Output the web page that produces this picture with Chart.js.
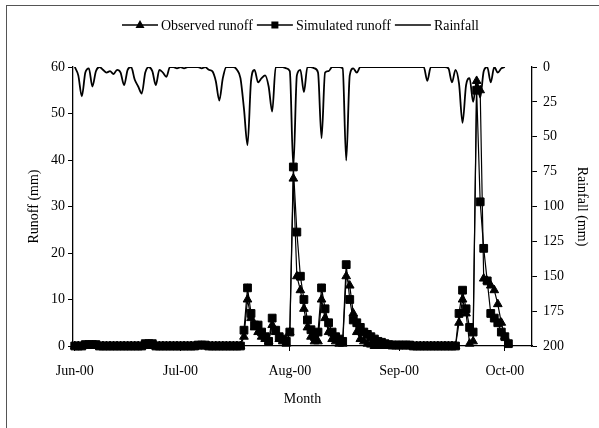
<!DOCTYPE html>
<html>
<head>
<meta charset="utf-8">
<title>Runoff and rainfall</title>
<script src="https://cdn.jsdelivr.net/npm/chart.js@4.4.1/dist/chart.umd.min.js"></script>
<style>
  body { margin: 0; background: #fff; }
  #wrap { position: relative; width: 599px; height: 428px; }
  #frame {
    position: absolute; left: 6px; top: 5px; right: 0; bottom: 0;
    border-left: 1px solid #555; border-top: 1px solid #555;
    pointer-events: none;
  }
</style>
</head>
<body>
<div id="wrap">
  <canvas id="runoffChart" width="599" height="428"></canvas>
  <div id="frame"></div>
</div>
<script>
// days counted from 1 Jun 2000 (day 0)
var monthTicks = [0, 30, 61, 92, 122];
var monthLabels = ["Jun-00", "Jul-00", "Aug-00", "Sep-00", "Oct-00"];

// daily rainfall (mm)
var rainfall = [
  0, 6, 21, 4, 1, 14, 3, 0, 2, 4,
  3, 5, 2, 4, 13, 2, 0, 9, 14, 19,
  4, 0, 3, 13, 2, 4, 7, 0, 0, 1,
  0, 1, 0, 0, 0, 0, 1, 0, 2, 3,
  10, 24, 8, 0, 0, 0, 2, 8, 30, 56,
  10, 2, 11, 8, 6, 14, 32, 0, 0, 0,
  1, 3, 72, 6, 2, 18, 0, 0, 1, 4,
  51, 4, 3, 0, 0, 0, 1, 67, 6, 1,
  4, 0, 0, 0, 0, 0, 0, 0, 0, 0,
  0, 0, 0, 0, 0, 0, 0, 0, 0, 0,
  10, 0, 0, 0, 0, 0, 1, 11, 2, 12,
  40, 13, 8, 25, 10, 22, 3, 0, 11, 0,
  4, 1, 0, null,
];

// observed daily runoff (mm)
var observedRunoff = [
  0, 0, 0, 0, 0, 0, 0, 0, 0, 0,
  0, 0, 0, 0, 0, 0, 0, 0, 0, 0,
  0, 0, 0, 0, 0, 0, 0, 0, 0, 0,
  0, 0, 0, 0, 0, 0, 0, 0, 0, 0,
  0, 0, 0, 0, 0, 0, 0, 0, 2, 10,
  6, 4, 3, 2, 1.5, 1, 4.5, 3, 1.5, 1,
  0.5, 3, 36, 15, 12, 8, 4, 2, 1, 1,
  10, 6, 3, 1.5, 1, 0.5, 0.5, 15, 13, 7,
  3, 1.5, 1, 0.5, 0.3, 0, 0, 0, 0, 0,
  0, 0, 0, 0, 0, 0, 0, 0, 0, 0,
  0, 0, 0, 0, 0, 0, 0, 0, 0, 5,
  10, 7, 0.5, 1, 57, 55, 14.5, 14, 13, 12,
  9, 5, 2, 0.5,
];

// simulated daily runoff (mm)
var simulatedRunoff = [
  0, 0, 0, 0.3, 0.3, 0.3, 0.3, 0, 0, 0,
  0, 0, 0, 0, 0, 0, 0, 0, 0, 0,
  0.5, 0.5, 0.5, 0, 0, 0, 0, 0, 0, 0,
  0, 0, 0, 0, 0, 0.2, 0.2, 0.2, 0, 0,
  0, 0, 0, 0, 0, 0, 0, 0, 3.4, 12.5,
  7, 4.5, 4.5, 3, 2, 1, 6, 3.4, 2, 1.5,
  1, 3, 38.5, 24.5, 15, 10, 5.6, 3.5, 2, 3,
  12.5, 8, 5, 3, 2, 1.5, 1, 17.5, 10, 5.6,
  5, 4, 3, 2.5, 2, 1.5, 1, 0.8, 0.5, 0.3,
  0.2, 0.2, 0.2, 0.2, 0.2, 0.2, 0, 0, 0, 0,
  0, 0, 0, 0, 0, 0, 0, 0, 0, 7,
  12, 8, 4, 3, 55, 31, 21, 14, 7, 6,
  5, 3, 2, 0.5,
];

function toPoints(values) {
  return values.map(function (v, i) {
    return { x: i, y: v };
  });
}

// legend drawn as line + marker, like the original figure
var lineLegend = {
  id: "lineLegend",
  afterDraw: function (chart) {
    var ctx = chart.ctx;
    var x = 122;
    var y = 25;
    ctx.save();
    ctx.font = "14px 'Liberation Serif'";
    ctx.textBaseline = "middle";
    ctx.fillStyle = "#000";
    ctx.strokeStyle = "#000";
    chart.data.datasets.forEach(function (ds) {
      ctx.lineWidth = 1.6;
      ctx.beginPath();
      ctx.moveTo(x, y);
      ctx.lineTo(x + 36, y);
      ctx.stroke();
      var cx = x + 18;
      if (ds.pointStyle === "triangle") {
        ctx.beginPath();
        ctx.moveTo(cx, y - 5);
        ctx.lineTo(cx + 4.5, y + 3);
        ctx.lineTo(cx - 4.5, y + 3);
        ctx.closePath();
        ctx.fill();
      } else if (ds.pointStyle === "rect") {
        ctx.fillRect(cx - 3.5, y - 3.5, 7, 7);
      }
      ctx.fillText(ds.label, x + 39, y + 1);
      x += 39 + ctx.measureText(ds.label).width + 4;
    });
    ctx.restore();
  },
};

document.addEventListener("DOMContentLoaded", function () {
  Chart.defaults.font.family = "'Liberation Serif', 'Times New Roman', serif";
  Chart.defaults.font.size = 14;
  Chart.defaults.color = "#000";

  var ctx = document.getElementById("runoffChart").getContext("2d");

  new Chart(ctx, {
    type: "line",
    data: {
      datasets: [
        {
          label: "Observed runoff",
          data: toPoints(observedRunoff),
          yAxisID: "y",
          borderColor: "#000",
          backgroundColor: "#000",
          borderWidth: 1.2,
          pointStyle: "triangle",
          pointRadius: 5,
          pointBorderWidth: 1,
          tension: 0,
          clip: false,
        },
        {
          label: "Simulated runoff",
          data: toPoints(simulatedRunoff),
          yAxisID: "y",
          borderColor: "#000",
          backgroundColor: "#000",
          borderWidth: 1.2,
          pointStyle: "rect",
          pointRadius: 5.5,
          pointBorderWidth: 1,
          tension: 0,
          clip: false,
        },
        {
          label: "Rainfall",
          data: toPoints(rainfall),
          yAxisID: "y2",
          borderColor: "#000",
          borderWidth: 1.8,
          pointRadius: 0,
          cubicInterpolationMode: "monotone",
          fill: false,
        },
      ],
    },
    options: {
      responsive: false,
      animation: false,
      layout: { padding: { left: 22, right: 5, top: 67, bottom: 0 } },
      plugins: {
        legend: { display: false },
        tooltip: { enabled: false },
      },
      scales: {
        x: {
          type: "linear",
          min: -0.5,
          max: 129.7,
          afterBuildTicks: function (axis) {
            axis.ticks = monthTicks.map(function (v) {
              return { value: v };
            });
          },
          afterFit: function (axis) {
            axis.height = 82;
          },
          ticks: {
            padding: 12,
            maxRotation: 0,
            autoSkip: false,
            callback: function (value) {
              var i = monthTicks.indexOf(value);
              return i >= 0 ? monthLabels[i] : "";
            },
          },
          grid: { drawOnChartArea: false, tickLength: 5, color: "#000" },
          border: { color: "#000", width: 1.3 },
          title: { display: true, text: "Month", padding: { top: 4, bottom: 20 } },
        },
        y: {
          position: "left",
          min: 0,
          max: 60,
          afterFit: function (axis) {
            axis.width = 51;
          },
          ticks: { stepSize: 10, padding: 3 },
          grid: { drawOnChartArea: false, tickLength: 5, color: "#000" },
          border: { color: "#000", width: 1.3 },
          title: { display: true, text: "Runoff (mm)" },
        },
        y2: {
          position: "right",
          min: 0,
          max: 200,
          reverse: true,
          afterFit: function (axis) {
            axis.width = 62;
          },
          ticks: { stepSize: 25, padding: 6 },
          grid: { drawOnChartArea: false, tickLength: 5, color: "#000" },
          border: { color: "#000", width: 1.3 },
          title: { display: true, text: "Rainfall (mm)" },
        },
      },
    },
    plugins: [lineLegend],
  });
});
</script>
</body>
</html>
